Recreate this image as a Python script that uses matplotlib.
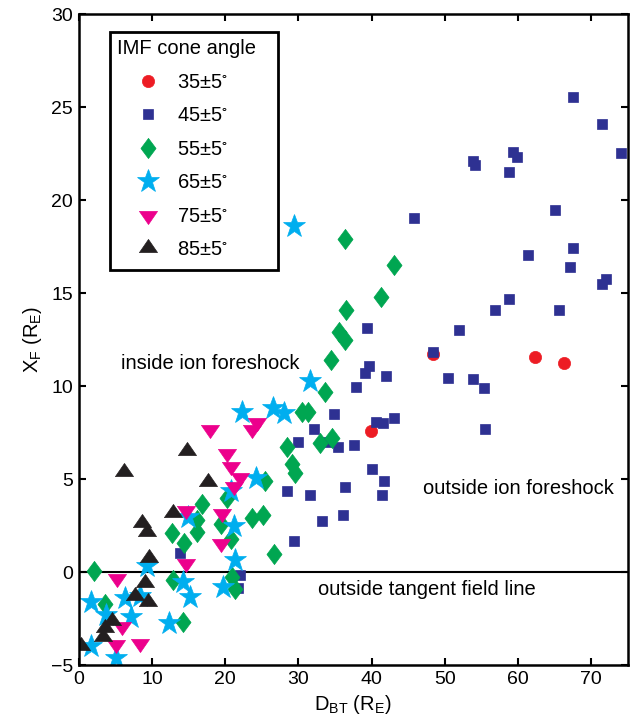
import matplotlib
matplotlib.use('Agg')
import matplotlib.pyplot as plt
from matplotlib.patches import Rectangle
import numpy as np

plt.rcParams['font.family'] = ['Liberation Sans', 'DejaVu Sans']
plt.rcParams['mathtext.default'] = 'regular'
plt.rcParams['font.size'] = 14.5

# IMF cone angle 35 +- 5
x35 = [48.4, 62.3, 66.3, 39.9]
y35 = [11.7, 11.55, 11.25, 7.6]

# 45 +- 5
x45 = [67.5, 71.5, 74.1, 53.8, 54.1, 59.3, 59.9, 58.8, 45.8, 65.0,
       61.4, 67.5, 67.1, 72.0, 71.5, 58.7, 56.9, 65.6, 52.0, 39.4,
       48.4, 39.7, 39.1, 41.9, 37.9, 50.4, 53.9, 55.3, 34.8, 40.6,
       41.6, 43.0, 55.5, 32.1, 30.0, 34.1, 35.4, 37.6, 40.1, 41.7,
       41.4, 28.4, 31.6, 36.3, 33.2, 36.1, 29.4, 13.8, 22.0, 21.8]
y45 = [25.55, 24.1, 22.55, 22.1, 21.9, 22.6, 22.3, 21.5, 19.05, 19.45,
       17.06, 17.4, 16.4, 15.77, 15.5, 14.7, 14.1, 14.1, 13.0, 13.1,
       11.85, 11.06, 10.7, 10.55, 9.96, 10.45, 10.36, 9.9, 8.5, 8.05,
       8.0, 8.3, 7.7, 7.67, 7.0, 7.0, 6.74, 6.81, 5.52, 4.89,
       4.12, 4.35, 4.16, 4.57, 2.72, 3.05, 1.67, 1.0, -0.16, -0.86]

# 55 +- 5
x55 = [43.0, 41.3, 36.3, 36.5, 35.5, 36.4, 34.5, 33.6, 30.5, 31.3,
       28.4, 32.9, 34.6, 29.1, 29.6, 25.5, 25.2, 26.7, 16.8, 16.2,
       16.2, 12.7, 14.4, 20.2, 19.4, 20.8, 23.6, 12.9, 20.9, 21.3,
       14.2, 2.1, 3.6]
y55 = [16.5, 14.8, 17.9, 14.1, 12.9, 12.5, 11.4, 9.7, 8.6, 8.6,
       6.7, 6.95, 7.2, 5.8, 5.3, 4.9, 3.06, 0.97, 3.64, 2.8,
       2.13, 2.08, 1.58, 3.96, 2.58, 1.76, 2.89, -0.43, -0.25, -0.93,
       -2.67, 0.05, -1.7]

# 65 +- 5
x65 = [29.4, 31.6, 22.3, 26.5, 28.1, 24.2, 20.8, 14.9, 21.2, 21.4,
       14.3, 15.2, 19.7, 12.3, 9.3, 1.7, 6.35, 3.7, 7.1, 8.4,
       1.7, 5.1]
y65 = [18.6, 10.27, 8.6, 8.8, 8.57, 5.07, 4.35, 2.97, 2.47, 0.65,
       -0.52, -1.33, -0.79, -2.73, 0.3, -1.63, -1.41, -2.3, -2.4, -1.3,
       -3.95, -4.64]

# 75 +- 5
x75 = [18.0, 24.3, 23.7, 20.3, 20.8, 22.0, 21.2, 14.7, 19.6, 19.5,
       14.6, 5.3, 5.9, 5.1, 8.4]
y75 = [7.69, 8.08, 7.67, 6.42, 5.7, 5.12, 4.62, 3.33, 3.16, 1.58,
       0.5, -0.34, -2.9, -3.87, -3.84]

# 85 +- 5
x85 = [6.2, 8.6, 9.3, 9.6, 9.0, 7.7, 9.4, 4.6, 3.6, 3.35,
       0.3, 14.8, 17.7, 12.9]
y85 = [5.39, 2.62, 2.17, 0.77, -0.57, -1.29, -1.6, -2.65, -3.03, -3.48,
       -4.0, 6.52, 4.86, 3.16]

labels = ['35', '45', '55', '65', '75', '85']

# matlab-ish marker shapes
diamond = [(0, 1), (0.75, 0), (0, -1), (-0.75, 0), (0, 1)]
tri_dn = [(-1, 0.45), (1, 0.45), (0, -1.0), (-1, 0.45)]
tri_up = [(-1, -0.45), (1, -0.45), (0, 1.0), (-1, -0.45)]

series = [
    (x35, y35, 'o', 8.8, '#ED1C24'),
    (x45, y45, 's', 7.2, '#2E3192'),
    (x55, y55, diamond, 14.5, '#00A651'),
    (x65, y65, '*', 17, '#00AEEF'),
    (x75, y75, tri_dn, 13, '#EC008C'),
    (x85, y85, tri_up, 13, '#231F20'),
]

fig = plt.figure(figsize=(6.32, 7.19), dpi=100)
ax = fig.add_axes([0.1245, 0.075, 0.869, 0.9055])

for (xs, ys, mk, ms, col), lab in zip(series, labels):
    ax.plot(xs, ys, linestyle='none', marker=mk, markersize=ms,
            color=col, markeredgecolor=col, markeredgewidth=0.5,
            label=lab + '±5$^{\\circ}$')

ax.axhline(0, color='k', linewidth=1.5, zorder=0.5)

ax.text(18.0, 11.2, 'inside ion foreshock', ha='center', va='center')
ax.text(60.0, 4.5, 'outside ion foreshock', ha='center', va='center')
ax.text(47.5, -0.95, 'outside tangent field line', ha='center', va='center')

ax.set_xlim(0, 75)
ax.set_ylim(-5, 30)
ax.set_xticks(np.arange(0, 71, 10))
ax.set_yticks(np.arange(-5, 31, 5))
ax.tick_params(direction='in', length=5, width=1.5, top=True, right=True,
               labelsize=14, pad=4)
for s in ax.spines.values():
    s.set_linewidth(1.8)

ax.set_xlabel('D$_{BT}$ (R$_{E}$)', labelpad=4)
ax.set_ylabel('X$_{F}$ (R$_{E}$)', labelpad=5)

# legend box drawn separately (matlab box has uneven padding)
box = Rectangle((0.057, 0.607), 0.306, 0.365, transform=ax.transAxes,
                facecolor='w', edgecolor='k', linewidth=2, zorder=4.9)
ax.add_patch(box)
leg = ax.legend(loc='upper left', bbox_to_anchor=(0.0697, 0.961),
                title='IMF cone angle', alignment='left',
                frameon=False, borderpad=0, labelspacing=0.72,
                handlelength=3.08, handletextpad=-0.1, borderaxespad=0,
                numpoints=1, title_fontsize=14.5, fontsize=14.5)

fig.savefig('out.png', dpi=100)
